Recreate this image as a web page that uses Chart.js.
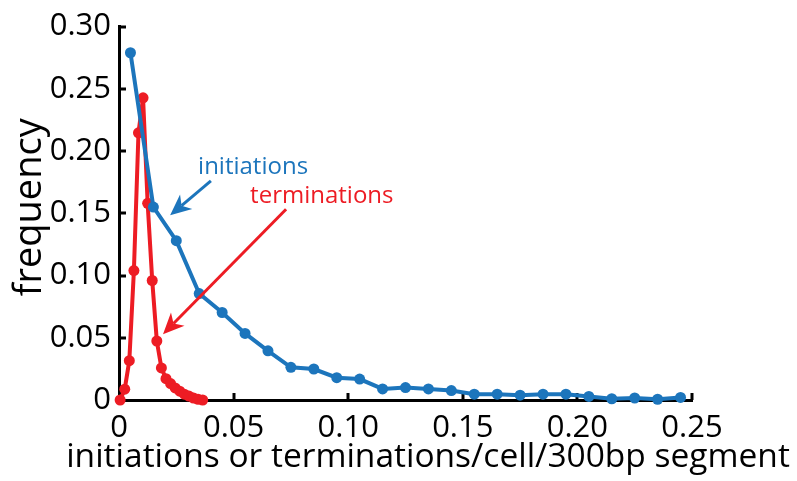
<!DOCTYPE html>
<html>
<head>
<meta charset="utf-8">
<script src="https://cdn.jsdelivr.net/npm/chart.js@4/dist/chart.umd.min.js"></script>
<style>
  html, body { margin: 0; padding: 0; background: #ffffff; }
  #wrap { width: 797px; height: 481px; }
</style>
</head>
<body>
<div id="wrap"><canvas id="chart" width="797" height="481"></canvas></div>
<script>
// Initiations per 300bp segment: histogram bin centres and frequencies
const initX = [0.005, 0.015, 0.025, 0.035, 0.045, 0.055, 0.065, 0.075, 0.085, 0.095,
               0.105, 0.115, 0.125, 0.135, 0.145, 0.155, 0.165, 0.175, 0.185, 0.195,
               0.205, 0.215, 0.225, 0.235, 0.245];
const initY = [0.279, 0.155, 0.128, 0.0855, 0.0703, 0.0535, 0.0395, 0.0263, 0.0249, 0.0179,
               0.0168, 0.0089, 0.0100, 0.0089, 0.0076, 0.0047, 0.0047, 0.0039, 0.0047, 0.0047,
               0.0029, 0.0010, 0.0016, 0.0006, 0.0021];

// Terminations per 300bp segment
const termX = [0.0005, 0.0025, 0.0045, 0.0065, 0.0085, 0.0105, 0.0125, 0.0145, 0.0165, 0.0185,
               0.0205, 0.0225, 0.0245, 0.0265, 0.0285, 0.0305, 0.0325, 0.0345, 0.0365];
const termY = [0.0, 0.0087, 0.0316, 0.104, 0.2147, 0.2428, 0.158, 0.096, 0.0474, 0.0258,
               0.0171, 0.0132, 0.0097, 0.0071, 0.0047, 0.0032, 0.0016, 0.0006, 0.0];

const xTicks = [0, 0.05, 0.10, 0.15, 0.20, 0.25];
const yTicks = [0, 0.05, 0.10, 0.15, 0.20, 0.25, 0.30];

const xTitle = 'initiations or terminations/cell/300bp segment';
const yTitle = 'frequency';

const BLUE = '#1C75BC';
const RED = '#ED1C24';
const FONT = '"Open Sans", "DejaVu Sans", sans-serif';

// Callout labels with arrows, in data coordinates
const callouts = [
  { text: 'initiations', color: BLUE, tx: 0.0345, ty: 0.1816,
    from: [0.0401, 0.176], to: [0.0223, 0.1484] },
  { text: 'terminations', color: RED, tx: 0.0572, ty: 0.1579,
    from: [0.0729, 0.1532], to: [0.0192, 0.0529] }
];

const fmt = v => (v === 0 ? '0' : v.toFixed(2));

function drawArrow(ctx, x1, y1, x2, y2, color, lw) {
  const ang = Math.atan2(y2 - y1, x2 - x1);
  const headLen = 21, halfW = 9.5, notch = 6;
  const bx = x2 - Math.cos(ang) * (headLen - notch);
  const by = y2 - Math.sin(ang) * (headLen - notch);
  ctx.save();
  ctx.strokeStyle = color;
  ctx.fillStyle = color;
  ctx.lineWidth = lw;
  ctx.beginPath();
  ctx.moveTo(x1, y1);
  ctx.lineTo(bx, by);
  ctx.stroke();
  const backX = x2 - Math.cos(ang) * headLen;
  const backY = y2 - Math.sin(ang) * headLen;
  const px = -Math.sin(ang), py = Math.cos(ang);
  ctx.beginPath();
  ctx.moveTo(x2, y2);
  ctx.lineTo(backX + px * halfW, backY + py * halfW);
  ctx.lineTo(bx, by);
  ctx.lineTo(backX - px * halfW, backY - py * halfW);
  ctx.closePath();
  ctx.fill();
  ctx.restore();
}

// Inward tick marks along both axes
const innerTicks = {
  id: 'innerTicks',
  beforeDatasetsDraw(chart) {
    const { ctx, scales: { x, y } } = chart;
    ctx.save();
    ctx.strokeStyle = '#000';
    ctx.lineWidth = 3;
    const len = 7;
    xTicks.forEach(v => {
      if (v === 0) return;
      const px = Math.round(x.getPixelForValue(v));
      ctx.beginPath();
      ctx.moveTo(px, y.bottom);
      ctx.lineTo(px, y.bottom - len);
      ctx.stroke();
    });
    yTicks.forEach(v => {
      if (v === 0) return;
      const py = Math.round(y.getPixelForValue(v));
      ctx.beginPath();
      ctx.moveTo(x.left, py);
      ctx.lineTo(x.left + len, py);
      ctx.stroke();
    });
    ctx.restore();
  }
};

// Axis titles drawn at their natural width
const axisTitles = {
  id: 'axisTitles',
  afterDraw(chart) {
    const { ctx, chartArea } = chart;
    ctx.save();
    ctx.fillStyle = '#000';
    ctx.font = '33.5px ' + FONT;
    ctx.textAlign = 'center';
    ctx.textBaseline = 'alphabetic';
    ctx.fillText(xTitle, 428, 467);
    ctx.translate(41, (chartArea.top + chartArea.bottom) / 2 - 6);
    ctx.rotate(-Math.PI / 2);
    ctx.font = '38px ' + FONT;
    ctx.fillText(yTitle, 0, 0);
    ctx.restore();
  }
};

const calloutPlugin = {
  id: 'callouts',
  afterDatasetsDraw(chart) {
    const { ctx, scales: { x, y } } = chart;
    callouts.forEach(c => {
      ctx.save();
      ctx.font = '24px ' + FONT;
      ctx.fillStyle = c.color;
      ctx.textAlign = 'left';
      ctx.textBaseline = 'alphabetic';
      ctx.fillText(c.text, x.getPixelForValue(c.tx), y.getPixelForValue(c.ty));
      ctx.restore();
      drawArrow(ctx,
        x.getPixelForValue(c.from[0]), y.getPixelForValue(c.from[1]),
        x.getPixelForValue(c.to[0]), y.getPixelForValue(c.to[1]),
        c.color, 3);
    });
  }
};

const toPoints = (xs, ys) => xs.map((v, i) => ({ x: v, y: ys[i] }));

new Chart(document.getElementById('chart'), {
  type: 'line',
  data: {
    datasets: [
      {
        label: 'initiations',
        data: toPoints(initX, initY),
        borderColor: BLUE,
        backgroundColor: BLUE,
        pointBackgroundColor: BLUE,
        pointBorderWidth: 0,
        pointRadius: 5.5,
        borderWidth: 4,
        tension: 0,
        clip: false
      },
      {
        label: 'terminations',
        data: toPoints(termX, termY),
        borderColor: RED,
        backgroundColor: RED,
        pointBackgroundColor: RED,
        pointBorderWidth: 0,
        pointRadius: 5.5,
        borderWidth: 4,
        tension: 0,
        clip: false
      }
    ]
  },
  options: {
    responsive: false,
    animation: false,
    devicePixelRatio: 1,
    layout: { padding: { top: 20, right: 105, left: 0, bottom: 0 } },
    plugins: { legend: { display: false }, tooltip: { enabled: false } },
    scales: {
      x: {
        type: 'linear',
        min: 0,
        max: 0.25,
        afterBuildTicks: s => { s.ticks = xTicks.map(v => ({ value: v })); },
        afterFit: s => { s.height = 81; },
        grid: { display: true, drawOnChartArea: false, drawTicks: false },
        border: { display: true, color: '#000', width: 3 },
        ticks: {
          color: '#000',
          padding: 11,
          maxRotation: 0,
          font: { family: FONT, size: 31, lineHeight: 1.1 },
          callback: v => fmt(v)
        },
        title: { display: false }
      },
      y: {
        type: 'linear',
        min: 0,
        max: 0.30,
        afterBuildTicks: s => { s.ticks = yTicks.map(v => ({ value: v })); },
        afterFit: s => { s.width = 119; },
        grid: { display: true, drawOnChartArea: false, drawTicks: false },
        border: { display: true, color: '#000', width: 3 },
        ticks: {
          color: '#000',
          padding: 8,
          font: { family: FONT, size: 31 },
          callback: v => fmt(v)
        },
        title: { display: false }
      }
    }
  },
  plugins: [innerTicks, axisTitles, calloutPlugin]
});
</script>
</body>
</html>
